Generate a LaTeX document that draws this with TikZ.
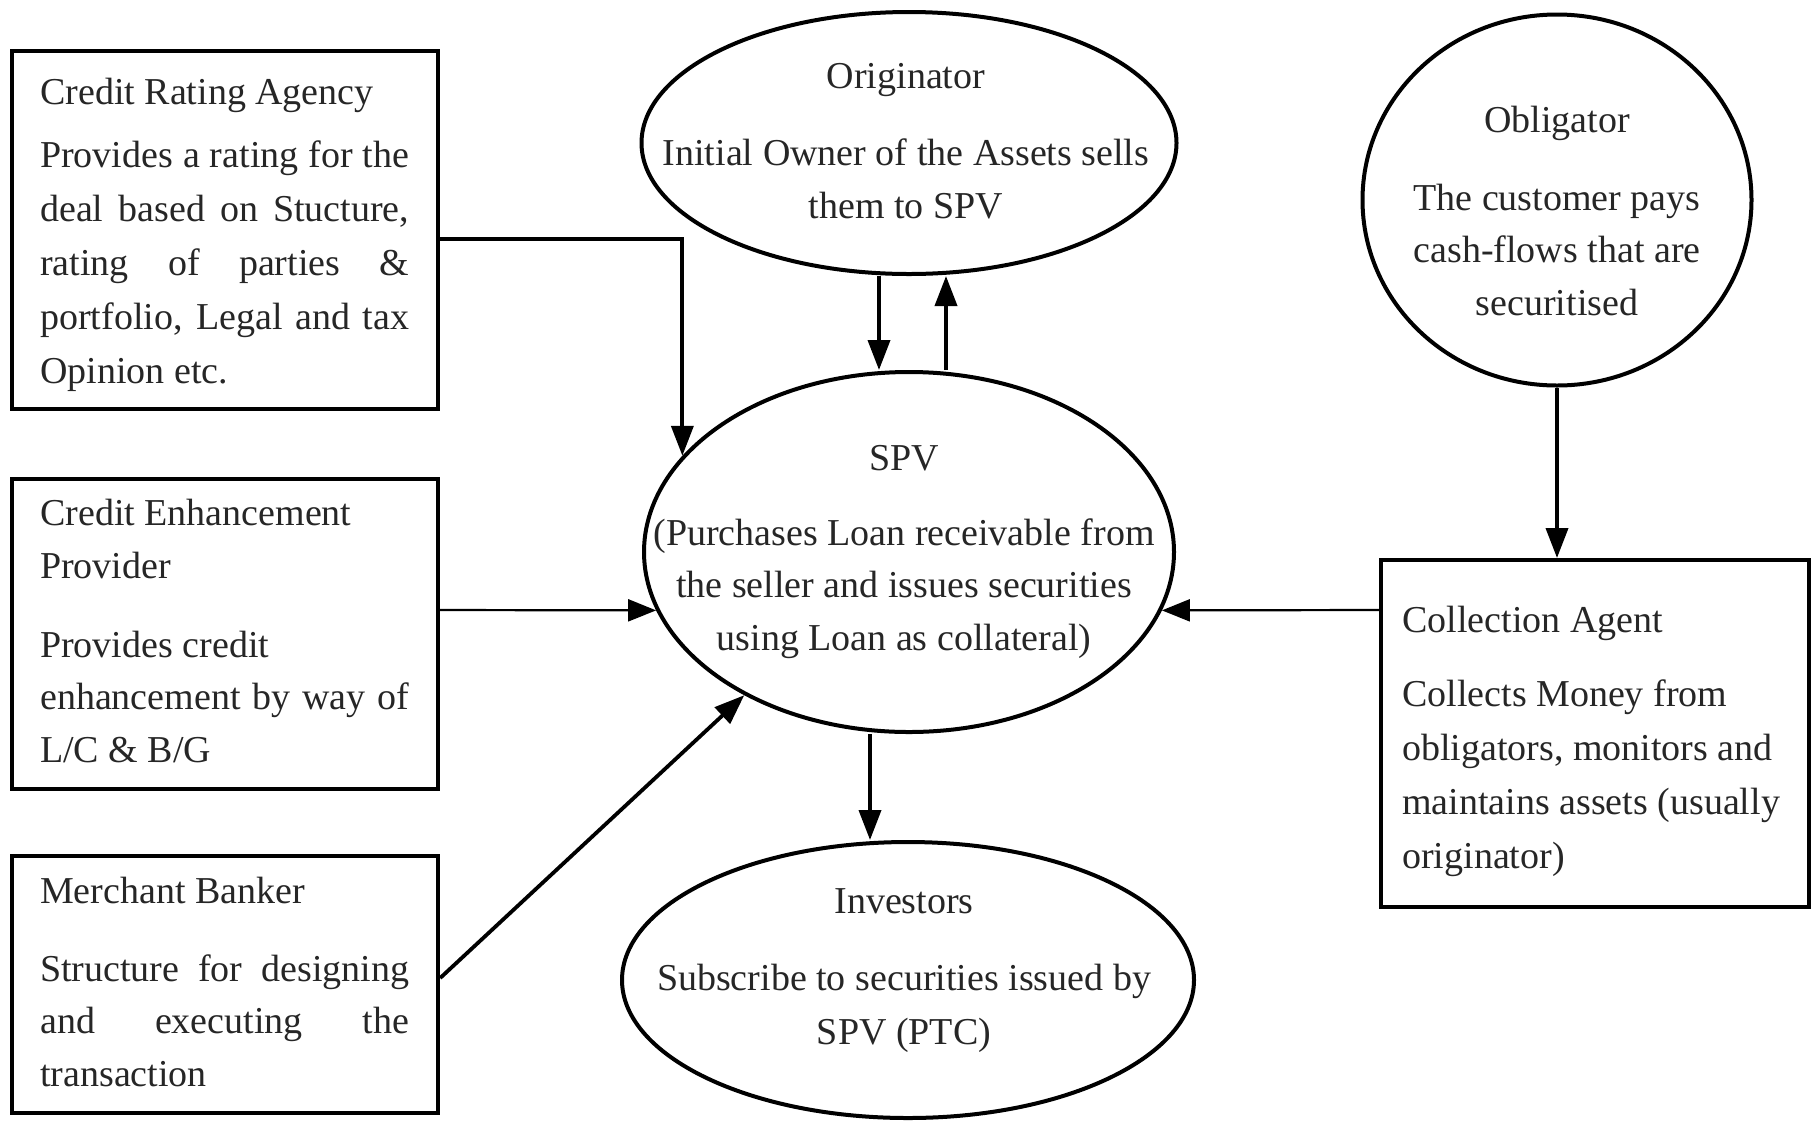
\documentclass[tikz,border=0pt]{standalone}
\usepackage{fontspec}
\setmainfont{Liberation Serif}
\usetikzlibrary{arrows.meta,shapes.geometric,calc}

% a text line stretched to the full width of a box's text column
\newcommand{\jl}[1]{\makebox[369pt][s]{#1}}

\begin{document}
\begin{tikzpicture}[x=1pt,y=-1pt,
  boxnode/.style={draw, line width=4.2pt, rectangle, inner sep=0pt},
  ovalnode/.style={draw, line width=4pt, ellipse, inner sep=0pt},
  txt/.style={inner sep=0pt, font=\fontsize{38}{54}\selectfont, text=black!85},
  tight/.style={font=\fontsize{38}{52.5}\selectfont},
  bold arrow/.style={line width=3.8pt, -{Triangle[length=30pt,width=22pt]}},
  fine arrow/.style={line width=2.2pt, -{Triangle[length=28pt,width=22pt]}}
]
\useasboundingbox (0,0) rectangle (1814,1120);

% ---- rectangular parties
\node[boxnode, minimum width=426, minimum height=358, anchor=north west] (cra) at (10,49) {};
\node[boxnode, minimum width=426, minimum height=310, anchor=north west] (cep) at (10,477) {};
\node[boxnode, minimum width=426, minimum height=257, anchor=north west] (mb)  at (10,854) {};
\node[boxnode, minimum width=428, minimum height=347, anchor=north west] (ca)  at (1379,558) {};

% ---- oval parties
\node[ovalnode, minimum width=535, minimum height=262] (orig)  at (909,143) {};
\node[ovalnode, minimum width=530, minimum height=360] (spv)   at (909,552) {};
\node[ovalnode, minimum width=389, minimum height=371] (oblig) at (1557,200) {};
\node[ovalnode, minimum width=572, minimum height=276] (inv)   at (908,980) {};

% ---- texts of the boxes (multi-line blocks are placed by their last baseline)
\node[txt, anchor=base west] (craT) at (40,104) {Credit Rating Agency};
\node[txt, anchor=base west, align=left] (craB) at (40,383)
  {\jl{Provides a rating for the}\\ \jl{deal based on Stucture,}\\ \jl{rating of parties \&}\\ \jl{portfolio, Legal and tax}\\ Opinion etc.};

\node[txt, tight, anchor=base west, align=left] (cepT) at (40,578) {Credit Enhancement\\ Provider};
\node[txt, tight, anchor=base west, align=left] (cepB) at (40,762)
  {Provides credit\\ \jl{enhancement by way of}\\ L/C \& B/G};

\node[txt, anchor=base west] (mbT) at (40,903) {Merchant Banker};
\node[txt, tight, anchor=base west, align=left] (mbB) at (40,1086)
  {\jl{Structure for designing}\\ \jl{and executing the}\\ transaction};

\node[txt, anchor=base west] (caT) at (1402,632) {Collection Agent};
\node[txt, anchor=base west, align=left] (caB) at (1402,868)
  {Collects Money from\\ obligators, monitors and\\ maintains assets (usually\\ originator)};

% ---- texts of the ovals
\node[txt, anchor=base] (origT) at (906,88) {Originator};
\node[txt, tight, anchor=base, align=center] (origB) at (906,218)
  {Initial Owner of the Assets sells\\ them to SPV};

\node[txt, anchor=base] (spvT) at (904,470) {SPV};
\node[txt, tight, anchor=base, align=center] (spvB) at (904,650)
  {(Purchases Loan receivable from\\ the seller and issues securities\\ using Loan as collateral)};

\node[txt, anchor=base] (obligT) at (1557,132) {Obligator};
\node[txt, tight, anchor=base, align=center] (obligB) at (1557,315)
  {The customer pays\\ cash-flows that are\\ securitised};

\node[txt, anchor=base] (invT) at (904,913) {Investors};
\node[txt, anchor=base, align=center] (invB) at (904,1044)
  {Subscribe to securities issued by\\ SPV (PTC)};

% ---- connector end points
\coordinate (craout) at ($(cra.north east)+(0,190)$);
\coordinate (cepout) at ($(cep.north west)+(426,133)$);
\coordinate (mbout)  at ($(mb.north east)+(0,124)$);
\coordinate (caout)  at ($(ca.north west)+(0,52)$);
\coordinate (xdn) at (879,0);
\coordinate (xup) at (946,0);
\coordinate (xinv) at (870,0);

% ---- flows
\draw[bold arrow] (craout) -| (spv.157.4);
\draw[fine arrow] (cepout) -- (spv.193);
\draw[bold arrow] (mbout) -- (spv.221.5);
\draw[fine arrow] (caout) -- (spv.-13);
\draw[bold arrow] (orig.south -| xdn) -- (spv.north -| xdn);
\draw[bold arrow] (spv.north -| xup) -- (orig.south -| xup);
\draw[bold arrow] (oblig.south) -- (ca.north -| oblig.south);
\draw[bold arrow] (spv.south -| xinv) -- (inv.north -| xinv);
\end{tikzpicture}
\end{document}
